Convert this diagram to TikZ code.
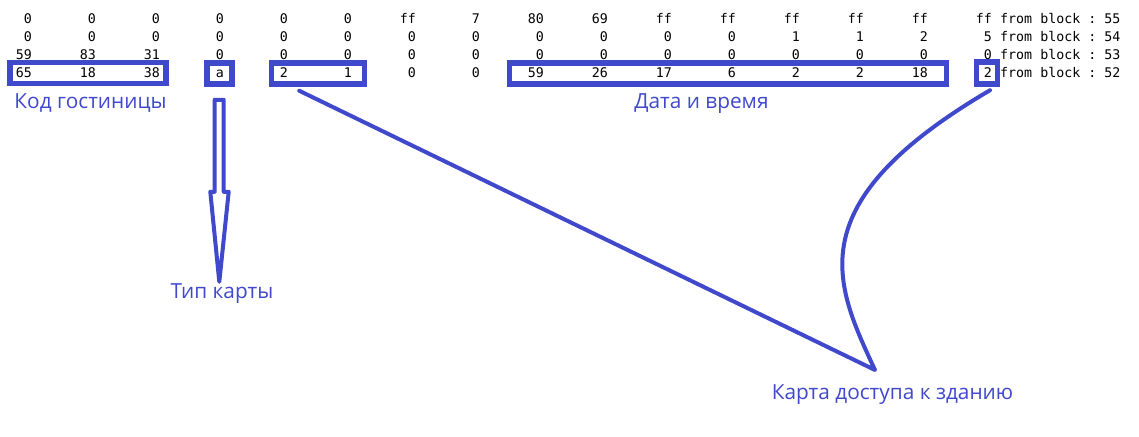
\documentclass[tikz,border=0pt]{standalone}
\usepackage{fontspec}
\setmonofont{DejaVu Sans Mono}
\newfontfamily\labfont{Open Sans}
\usetikzlibrary{calc}
\definecolor{markblue}{RGB}{64,72,204}
\begin{document}
\begin{tikzpicture}[x=1pt,y=-1pt,
  num/.style={anchor=base east, inner sep=0pt, font=\fontsize{13.3}{16}\selectfont\ttfamily},
  tail/.style={anchor=base west, inner sep=0pt, font=\fontsize{13.3}{16}\selectfont\ttfamily},
  hbox/.style={draw=markblue, line width=5.5pt, inner sep=0pt, rectangle},
  lab/.style={text=markblue, anchor=base, inner sep=0pt, font=\labfont\fontsize{20.8}{24}\selectfont},
  conn/.style={draw=markblue, line width=4pt, line join=round, line cap=round}]
\useasboundingbox (0,0) rectangle (1139,436);
% rows of bytes
\foreach \v [count=\c] in {0,0,0,0,0,0,ff,7,80,69,ff,ff,ff,ff,ff,ff}
  \node[num] (ra\c) at ({32+64*(\c-1)},24) {\v};
\foreach \v [count=\c] in {0,0,0,0,0,0,0,0,0,0,0,0,1,1,2,5}
  \node[num] (rb\c) at ({32+64*(\c-1)},41.8) {\v};
\foreach \v [count=\c] in {59,83,31,0,0,0,0,0,0,0,0,0,0,0,0,0}
  \node[num] (rc\c) at ({32+64*(\c-1)},59.6) {\v};
\foreach \v [count=\c] in {65,18,38,a,2,1,0,0,59,26,17,6,2,2,18,2}
  \node[num] (rd\c) at ({32+64*(\c-1)},77.6) {\v};
\node[tail] (ta) at (1000,24) {from block : 55};
\node[tail] (tb) at (1000,41.8) {from block : 54};
\node[tail] (tc) at (1000,59.6) {from block : 53};
\node[tail] (td) at (1000,77.6) {from block : 52};
% highlight boxes
\node[hbox, minimum width=156pt, minimum height=21pt] (bk) at (88,73) {};
\node[hbox, minimum width=25pt, minimum height=21pt] (bt) at (219.5,73.5) {};
\node[hbox, minimum width=93pt, minimum height=21pt] (bb) at (318,73.5) {};
\node[hbox, minimum width=437pt, minimum height=21pt] (bd) at (728,73.5) {};
\node[hbox, minimum width=21pt, minimum height=22pt] (bl) at (987,73) {};
% labels
\node[lab] (lk) at (90.5,108.3) {Код гостиницы};
\node[lab] (ld) at (701.5,108.5) {Дата и время};
\node[lab] (lt) at (222,298.5) {Тип карты};
\node[lab] (la) at (892.5,399.3) {Карта доступа к зданию};
% hollow arrow
\draw[conn] ($(bt.south)+(-4.8,105)$) -- ($(bt.south)+(-4.8,13)$)
  -- ($(bt.south)+(4.2,13)$) -- ($(bt.south)+(4.2,105)$)
  -- ($(bt.south)+(9.2,105)$) -- ($(bt.south)+(-0.2,195)$)
  -- ($(bt.south)+(-9.2,105)$) -- cycle;
% callout
\coordinate (ctip) at ($(la.base)+(-17.5,-29.3)$);
\draw[conn] ($(bb.south west)+(30.5,4)$) -- (ctip)
  .. controls (835,284) and (796,204) .. ($(bl.south)+(3,3.5)$);
\end{tikzpicture}
\end{document}
